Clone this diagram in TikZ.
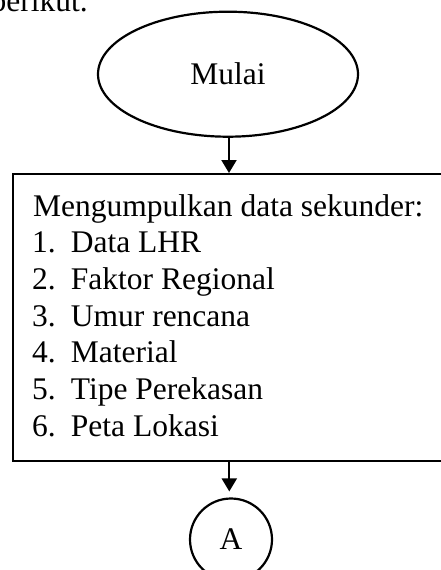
\documentclass[tikz,border=0pt]{standalone}
\usepackage{fontspec}
\setmainfont{Liberation Serif}
\usetikzlibrary{shapes.geometric,arrows.meta}
\begin{document}
\begin{tikzpicture}[x=1pt,y=-1pt,
  every node/.style={font=\fontsize{31.5}{37}\selectfont, inner sep=0pt},
  shapeline/.style={draw=black, line width=2.2pt},
  txt/.style={anchor=base west},
  arr/.style={line width=2pt, -{Triangle[width=15pt,length=13pt]}}]
\useasboundingbox (0,0) rectangle (440,570);
\fill[white] (0,0) rectangle (440,570);
\node[anchor=base east] (intro) at (88,12) {berikut.};
\node[shapeline, ellipse, minimum width=260pt, minimum height=125pt] (ell) at (228,74.2) {Mulai};
\node[shapeline, rectangle, anchor=north west, minimum width=440pt, minimum height=287pt] (box) at (11.7,173) {};
\node[txt] (t0) at (33,216) {Mengumpulkan data sekunder:};
\node[txt] (n1) at (32,252.7) {1.};
\node[txt] (i1) at (70.7,252.7) {Data LHR};
\node[txt] (n2) at (32,289.4) {2.};
\node[txt] (i2) at (70.7,289.4) {Faktor Regional};
\node[txt] (n3) at (32,326.1) {3.};
\node[txt] (i3) at (70.7,326.1) {Umur rencana};
\node[txt] (n4) at (32,362.8) {4.};
\node[txt] (i4) at (70.7,362.8) {Material};
\node[txt] (n5) at (32,399.5) {5.};
\node[txt] (i5) at (70.7,399.5) {Tipe Perekasan};
\node[txt] (n6) at (32,436.2) {6.};
\node[txt] (i6) at (70.7,436.2) {Peta Lokasi};
\node[shapeline, circle, minimum size=82pt] (circ) at (231,539.5) {A};
\draw[arr] ([xshift=1pt]ell.south) -- ([xshift=1pt]ell.south |- box.north);
\draw[arr, shorten >=6pt] ([xshift=-1.7pt]box.south -| circ.north) -- ([xshift=-1.7pt]circ.north);
\end{tikzpicture}
\end{document}
